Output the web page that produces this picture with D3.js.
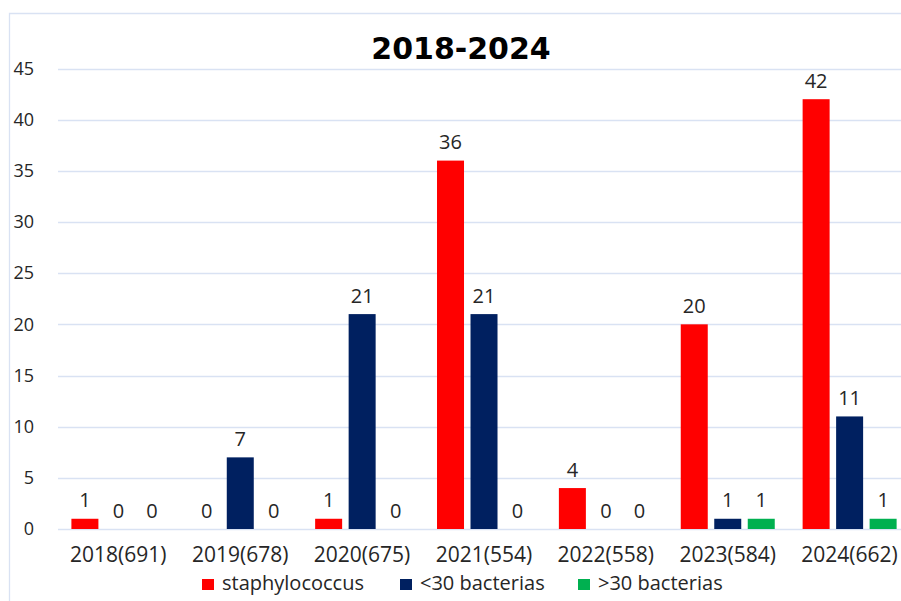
<!DOCTYPE html>
<html>
<head>
<meta charset="utf-8">
<script src="https://cdn.jsdelivr.net/npm/d3@7"></script>
<style>
  body {
    margin: 0;
    background: #fff;
  }
  svg {
    display: block;
    font-family: "Open Sans", sans-serif;
  }
  .grid line {
    stroke: #d9e2f3;
    stroke-width: 1.3;
  }
  .labels {
    fill: #262626;
    font-size: 20px;
  }
</style>
</head>
<body>
<script>
// chart data
var years = ["2018(691)", "2019(678)", "2020(675)", "2021(554)", "2022(558)", "2023(584)", "2024(662)"];
var seriesNames = ["staphylococcus", "<30 bacterias", ">30 bacterias"];
var staph = [1, 0, 1, 36, 4, 20, 42];
var under30 = [0, 7, 21, 21, 0, 1, 11];
var over30 = [0, 0, 0, 0, 0, 1, 1];
var yTicks = [0, 5, 10, 15, 20, 25, 30, 35, 40, 45];
var colors = ["#ff0000", "#002060", "#00b050"];

var width = 901,
  height = 601;

var svg = d3.select("body").append("svg")
  .attr("width", width)
  .attr("height", height);

// outer frame of the chart area
svg.append("path")
  .attr("d", "M9.5," + height + "V13.5H" + width)
  .attr("fill", "none")
  .attr("stroke", "#d9e2f3")
  .attr("stroke-width", 1.3);

var x0 = d3.scaleBand()
  .domain(years)
  .range([57.4, 57.4 + 121.87 * years.length]);

var x1 = d3.scaleBand()
  .domain(seriesNames)
  .range([14, 108])
  .paddingInner(0.194);

var y = d3.scaleLinear()
  .domain([0, 45])
  .range([529, 68.5]);

// gridlines
svg.append("g")
  .attr("class", "grid")
  .selectAll("line")
  .data(yTicks)
  .enter().append("line")
  .attr("x1", 58)
  .attr("x2", width)
  .attr("y1", d => Math.round(y(d)) + 0.5)
  .attr("y2", d => Math.round(y(d)) + 0.5);

// y axis labels
svg.append("g")
  .selectAll("text")
  .data(yTicks)
  .enter().append("text")
  .attr("x", 34)
  .attr("y", d => y(d))
  .attr("dy", "0.35em")
  .attr("text-anchor", "end")
  .attr("fill", "#262626")
  .style("font-size", "18px")
  .text(d => d);

// x axis labels
svg.append("g")
  .selectAll("text")
  .data(years)
  .enter().append("text")
  .attr("x", d => x0(d) + x0.bandwidth() / 2)
  .attr("y", 562)
  .attr("text-anchor", "middle")
  .attr("fill", "#262626")
  .style("font-size", "21px")
  .text(d => d);

var rows = years.map(function(yr, i) {
  return {
    year: yr,
    values: [staph[i], under30[i], over30[i]].map(function(v, j) {
      return { key: seriesNames[j], value: v, color: colors[j] };
    })
  };
});

var groups = svg.append("g")
  .selectAll("g")
  .data(rows)
  .enter().append("g")
  .attr("transform", d => "translate(" + x0(d.year) + ",0)");

groups.selectAll("rect")
  .data(d => d.values)
  .enter().append("rect")
  .attr("x", d => x1(d.key))
  .attr("width", x1.bandwidth())
  .attr("y", d => y(d.value))
  .attr("height", d => y(0) - y(d.value))
  .attr("fill", d => d.color);

groups.selectAll("text")
  .data(d => d.values)
  .enter().append("text")
  .attr("class", "labels")
  .attr("x", d => x1(d.key) + x1.bandwidth() / 2)
  .attr("y", d => y(d.value) - 11.5)
  .attr("text-anchor", "middle")
  .text(d => d.value);

// title
svg.append("text")
  .attr("x", 461)
  .attr("y", 59)
  .attr("text-anchor", "middle")
  .style("font-family", "'DejaVu Sans', sans-serif")
  .style("font-weight", "bold")
  .style("font-size", "30px")
  .attr("fill", "#000")
  .text("2018-2024");

// legend
var legendX = [202, 400, 578];
var legend = svg.append("g")
  .selectAll("g")
  .data(seriesNames)
  .enter().append("g")
  .attr("transform", (d, i) => "translate(" + legendX[i] + ",579)");

legend.append("rect")
  .attr("width", 12)
  .attr("height", 11)
  .attr("fill", (d, i) => colors[i]);

legend.append("text")
  .attr("x", 20)
  .attr("y", 11)
  .attr("fill", "#262626")
  .style("font-size", "20px")
  .text(d => d);
</script>
</body>
</html>
